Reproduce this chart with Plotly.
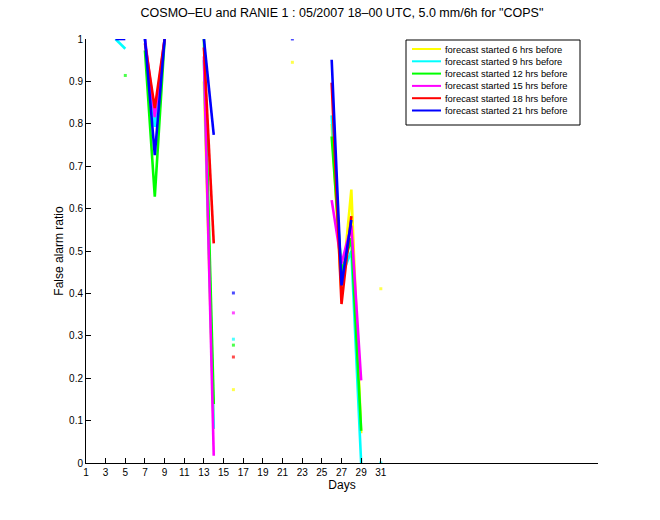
import plotly.graph_objects as go

N = None
days = list(range(1, 32))

series_names = [
    "forecast started 6 hrs before",
    "forecast started 9 hrs before",
    "forecast started 12 hrs before",
    "forecast started 15 hrs before",
    "forecast started 18 hrs before",
    "forecast started 21 hrs before",
]
series_colors = ["#ffff00", "#00ffff", "#00ff00", "#ff00ff", "#ff0000", "#0000ff"]

#            1  2  3  4     5      6  7      8      9  10 11 12 13     14     15 16     17 18 19 20 21 22     23 24 25 26     27     28     29     30 31
fc06 = [N, N, N, N,    N,     N, N,     N,     N, N, N, N, 0.90,  0.080, N, 0.173, N, N, N, N, N, 0.945, N, N, N, 0.80,  0.40,  0.645, 0.070, N, 0.411]
fc09 = [N, N, N, 1.0,  0.977, N, 1.0,   0.793, 1.0, N, N, N, 0.95,  0.081, N, 0.292, N, N, N, N, N, N,     N, N, N, 0.82,  0.44,  0.50,  0.0,   N, 0.0]
fc12 = [N, N, N, N,    0.914, N, 0.973, 0.628, 1.0, N, N, N, 1.0,   0.139, N, 0.278, N, N, N, N, N, N,     N, N, N, 0.77,  0.45,  0.53,  0.076, N, N]
fc15 = [N, N, N, N,    N,     N, 1.0,   0.816, 1.0, N, N, N, 0.959, 0.017, N, 0.354, N, N, N, N, N, N,     N, N, N, 0.62,  0.47,  0.56,  0.195, N, N]
fc18 = [N, N, N, N,    N,     N, 0.99,  0.837, 1.0, N, N, N, 0.98,  0.518, N, 0.250, N, N, N, N, N, N,     N, N, N, 0.897, 0.375, 0.582, N,     N, N]
fc21 = [N, N, N, 1.0,  1.0,   N, 1.0,   0.726, 1.0, N, N, N, 1.0,   0.774, N, 0.401, N, N, N, N, N, 1.0,   N, N, N, 0.951, 0.419, 0.573, N,     N, N]
all_series = [fc06, fc09, fc12, fc15, fc18, fc21]

x_ticks = list(range(1, 32, 2))
y_ticks = [round(0.1 * i, 1) for i in range(11)]
y_tick_text = ["0" if v == 0 else ("1" if v == 1 else f"{v:g}") for v in y_ticks]

FONT = "Liberation Sans, Arial, Helvetica, sans-serif"

fig = go.Figure()
for name, color, vals in zip(series_names, series_colors, all_series):
    sizes = []
    for i, v in enumerate(vals):
        prev_v = vals[i - 1] if i > 0 else None
        next_v = vals[i + 1] if i < len(vals) - 1 else None
        sizes.append(3 if (v is not None and prev_v is None and next_v is None) else 0)
    fig.add_trace(go.Scatter(
        x=days, y=vals, name=name, mode="lines+markers",
        line=dict(color=color, width=2.6),
        marker=dict(color=color, size=sizes, symbol="square", line=dict(width=0)),
        showlegend=False, connectgaps=False,
    ))

# custom MATLAB-style legend (paper coordinates)
L = 86; R = 598; T = 39; B = 463
def px(xp):
    return (xp - L) / (R - L)
def py(yp):
    return (B - yp) / (B - T)

shapes = [dict(type="rect", xref="paper", yref="paper",
               x0=px(406), x1=px(580), y0=py(125), y1=py(40),
               line=dict(color="black", width=1), fillcolor="white", layer="above")]
annotations = []
for k, (name, color) in enumerate(zip(series_names, series_colors)):
    yc = 49 + k * 12.3
    shapes.append(dict(type="line", xref="paper", yref="paper",
                       x0=px(412), x1=px(441), y0=py(yc), y1=py(yc),
                       line=dict(color=color, width=2), layer="above"))
    annotations.append(dict(xref="paper", yref="paper", x=px(443), y=py(yc),
                            xanchor="left", yanchor="middle", showarrow=False,
                            text=name, font=dict(family=FONT, size=9.4, color="black")))

fig.update_layout(
    width=660, height=520,
    margin=dict(l=L, r=660 - R, t=T, b=520 - B),
    paper_bgcolor="white", plot_bgcolor="white",
    font=dict(family=FONT, size=10, color="black"),
    title=dict(text='COSMO\u2013EU and RANIE 1 : 05/2007 18\u201300 UTC, 5.0 mm/6h for "COPS"',
               x=(L + R) / 2 / 660, xanchor="center", y=1 - 13 / 520, yanchor="middle",
               font=dict(family=FONT, size=12.5, color="black")),
    shapes=shapes, annotations=annotations,
    showlegend=False,
)
fig.update_xaxes(range=[1, 53.1], tickvals=x_ticks, ticktext=[str(t) for t in x_ticks],
                 ticks="inside", ticklen=5, tickcolor="black", showline=True, linecolor="black",
                 linewidth=1, mirror=False, showgrid=False, zeroline=False,
                 title=dict(text="Days", standoff=3, font=dict(family=FONT, size=12)),
                 tickfont=dict(family=FONT, size=10))
fig.update_yaxes(range=[0, 1], tickvals=y_ticks, ticktext=y_tick_text,
                 ticks="inside", ticklen=5, tickcolor="black", showline=True, linecolor="black",
                 linewidth=1, mirror=False, showgrid=False, zeroline=False,
                 title=dict(text="False alarm ratio", standoff=2, font=dict(family=FONT, size=12)),
                 tickfont=dict(family=FONT, size=10))

fig.write_html("out.html")
